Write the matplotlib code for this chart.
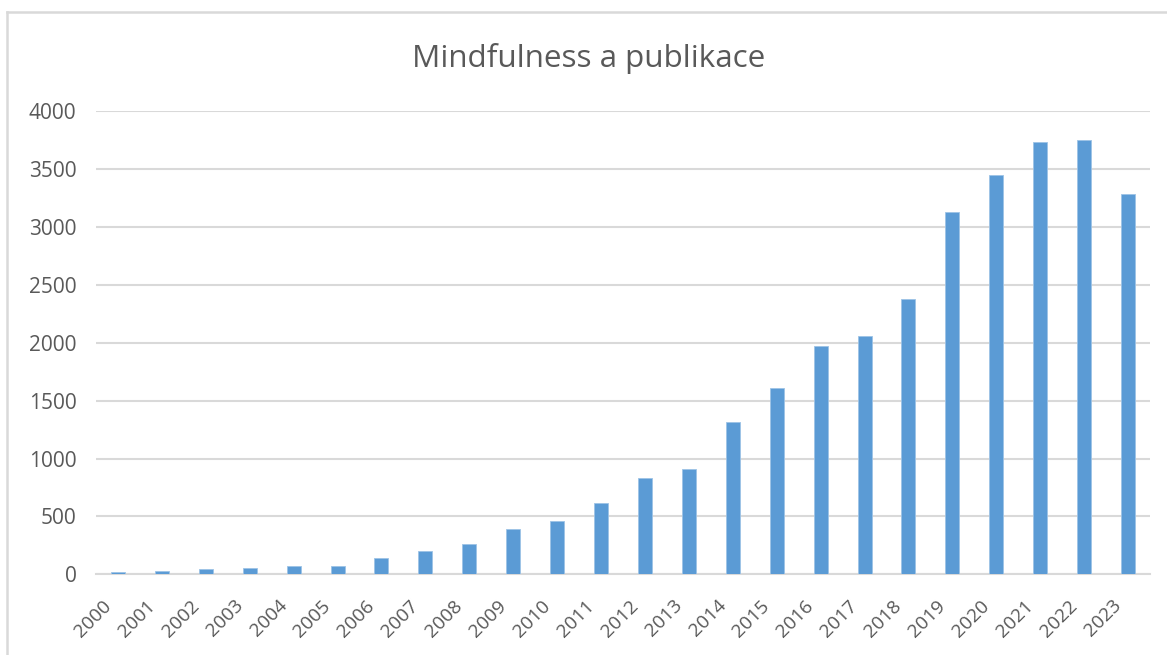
import matplotlib
matplotlib.use("Agg")
import matplotlib.pyplot as plt
from matplotlib.lines import Line2D
import matplotlib.transforms as mtransforms

years = [str(y) for y in range(2000, 2024)]
counts = [20, 25, 43, 52, 72, 72, 142, 199, 259, 389, 463, 616, 829, 912,
          1316, 1610, 1970, 2059, 2376, 3128, 3447, 3732, 3752, 3286]
yticks = [0, 500, 1000, 1500, 2000, 2500, 3000, 3500, 4000]
title = "Mindfulness a publikace"

W, H, DPI = 1167, 655, 100
plt.rcParams['font.family'] = ['Open Sans', 'DejaVu Sans']
fig = plt.figure(figsize=(W / DPI, H / DPI), dpi=DPI)
fig.patch.set_facecolor('white')

left, right = 96 / W, 1150 / W
bottom, top = (H - 574.3) / H, (H - 111.3) / H
ax = fig.add_axes([left, bottom, right - left, top - bottom])

x = list(range(len(years)))
ax.bar(x, counts, width=0.32, color='#5B9BD5', edgecolor='#9DC3E6', linewidth=0.6, zorder=3)
ax.set_xlim(-0.5, len(years) - 0.5)
ax.set_ylim(0, 4000)
ax.set_yticks(yticks)
ax.set_yticklabels([str(v) for v in yticks])
ax.set_xticks(x)
ax.set_xticklabels(years, rotation=45, ha='right', va='top', rotation_mode='anchor')
ax.yaxis.grid(True, color='#D9D9D9', linewidth=1.5, zorder=0)
ax.set_axisbelow(True)
for s in ['top', 'right', 'left']:
    ax.spines[s].set_visible(False)
ax.spines['bottom'].set_color('#D9D9D9')
ax.spines['bottom'].set_linewidth(1.5)
ax.tick_params(axis='both', length=0, colors='#595959')
ax.tick_params(axis='y', pad=14, labelsize=15)
ax.tick_params(axis='x', pad=16, labelsize=13.8)
offset = mtransforms.ScaledTranslation(-16 / DPI, 0, fig.dpi_scale_trans)
for lbl in ax.get_xticklabels():
    lbl.set_transform(lbl.get_transform() + offset)

fig.text(0.5 * (413 + 765) / W, (H - 58) / H, title, ha='center', va='center',
         fontsize=22.6, color='#595959')

# chart area border (partially cropped)
fig.add_artist(Line2D([7 / W, 1.0], [(H - 12) / H, (H - 12) / H], transform=fig.transFigure,
                      color='#D9D9D9', linewidth=1.8))
fig.add_artist(Line2D([7 / W, 7 / W], [0, (H - 12) / H], transform=fig.transFigure,
                      color='#D9D9D9', linewidth=1.8))

fig.savefig('out.png', dpi=DPI, facecolor='white')
